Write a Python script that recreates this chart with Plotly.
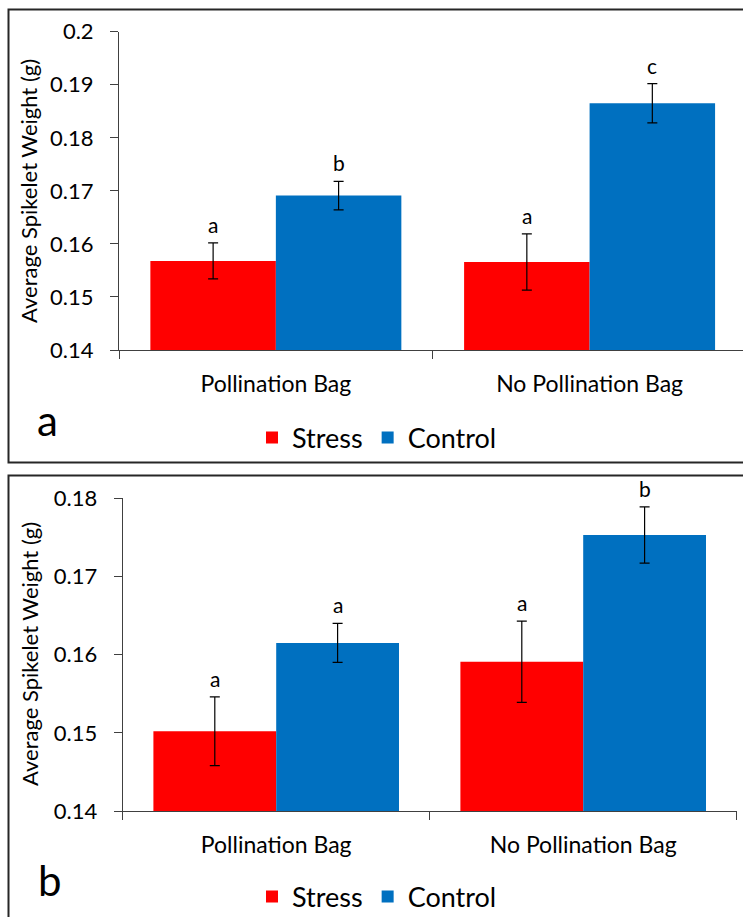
import plotly.graph_objects as go

# ---- data ----
categories = ["Pollination Bag", "No Pollination Bag"]
series_names = ["Stress", "Control"]

# panel a
stress_a = [0.1568, 0.1566]
stress_a_err = [0.0034, 0.0053]
control_a = [0.1691, 0.1865]
control_a_err = [0.0027, 0.0037]
letters_stress_a = ["a", "a"]
letters_control_a = ["b", "c"]

# panel b
stress_b = [0.1502, 0.1591]
stress_b_err = [0.0044, 0.0052]
control_b = [0.1615, 0.1753]
control_b_err = [0.0025, 0.0036]
letters_stress_b = ["a", "a"]
letters_control_b = ["a", "b"]

yticks_a = [0.14, 0.15, 0.16, 0.17, 0.18, 0.19, 0.2]
yticklabels_a = ["0.14", "0.15", "0.16", "0.17", "0.18", "0.19", "0.2"]
yticks_b = [0.14, 0.15, 0.16, 0.17, 0.18]
yticklabels_b = ["0.14", "0.15", "0.16", "0.17", "0.18"]

y_title = "Average Spikelet Weight (g)"
panel_tags = ["a", "b"]

# ---- styling ----
W, H = 743, 917
FONT = "Lato, 'Open Sans', sans-serif"
RED = "#FF0000"
BLUE = "#0070C0"
AXIS = "#404040"
TXT = "#000000"


def fx(px):
    return px / W


def fy(py):
    return (H - py) / H


fig = go.Figure()


def add_panel(xa, ya, legend_id, stress, stress_err, control, control_err):
    for name, vals, errs, color in [
        (series_names[0], stress, stress_err, RED),
        (series_names[1], control, control_err, BLUE),
    ]:
        fig.add_trace(go.Bar(
            x=categories, y=vals, name=name,
            marker=dict(color=color, line=dict(width=0)),
            error_y=dict(type="data", array=errs, visible=True,
                         color="#000000", thickness=1.2, width=5),
            xaxis=xa, yaxis=ya, legend=legend_id,
        ))


add_panel("x", "y", "legend", stress_a, stress_a_err, control_a, control_a_err)
add_panel("x2", "y2", "legend2", stress_b, stress_b_err, control_b, control_b_err)

annotations = []


def add_letters(xref, yref, stress, stress_err, control, control_err, ls, lc):
    for i in range(len(categories)):
        for off, v, e, t in [(-0.2, stress[i], stress_err[i], ls[i]),
                             (0.2, control[i], control_err[i], lc[i])]:
            annotations.append(dict(
                x=i + off, y=v + e, xref=xref, yref=yref, text=t,
                showarrow=False, xanchor="center", yanchor="bottom", yshift=4,
                font=dict(family=FONT, size=21, color=TXT)))


add_letters("x", "y", stress_a, stress_a_err, control_a, control_a_err,
            letters_stress_a, letters_control_a)
add_letters("x2", "y2", stress_b, stress_b_err, control_b, control_b_err,
            letters_stress_b, letters_control_b)

# rotated y-axis titles
for cx, cy in [(29, 191), (30, 654)]:
    annotations.append(dict(x=fx(cx), y=fy(cy), xref="paper", yref="paper",
                            text=y_title, textangle=-90, showarrow=False,
                            xanchor="center", yanchor="middle",
                            font=dict(family=FONT, size=22, color=TXT)))

# panel tags
for tag, cx, cy in [(panel_tags[0], 47, 420), (panel_tags[1], 50, 880)]:
    annotations.append(dict(x=fx(cx), y=fy(cy), xref="paper", yref="paper",
                            text=tag, showarrow=False,
                            xanchor="center", yanchor="middle",
                            font=dict(family=FONT, size=42, color=TXT)))

# panel frames (right/bottom edges run past the page)
shapes = [
    dict(type="rect", xref="paper", yref="paper",
         x0=fx(8.5), x1=fx(760), y0=fy(462.5), y1=fy(9.5),
         line=dict(color="#262626", width=2)),
    dict(type="rect", xref="paper", yref="paper",
         x0=fx(8.5), x1=fx(760), y0=fy(930), y1=fy(475.5),
         line=dict(color="#262626", width=2)),
]

xcommon = dict(type="category", showline=True, linecolor=AXIS, linewidth=1,
               ticks="outside", tickson="boundaries", ticklen=8,
               tickcolor=AXIS, showgrid=False, zeroline=False,
               tickfont=dict(family=FONT, size=23, color=TXT),
               ticklabelstandoff=13)
ycommon = dict(showline=True, linecolor=AXIS, linewidth=1, ticks="outside",
               ticklen=8, tickcolor=AXIS, showgrid=False, zeroline=False,
               tickfont=dict(family=FONT, size=22, color=TXT),
               ticklabelstandoff=12)

legend_common = dict(orientation="h", xanchor="center", yanchor="middle",
                     font=dict(family=FONT, size=27, color=TXT),
                     bgcolor="rgba(0,0,0,0)", itemclick=False,
                     itemdoubleclick=False)

fig.update_layout(
    width=W, height=H,
    margin=dict(l=0, r=0, t=0, b=0, autoexpand=False),
    paper_bgcolor="white", plot_bgcolor="white",
    barmode="group", bargap=0.2, bargroupgap=0,
    xaxis=dict(domain=[fx(119), 1], range=[-0.5, 1.489], anchor="y", **xcommon),
    yaxis=dict(domain=[fy(350), fy(31.7)], range=[0.14, 0.2], anchor="x",
               tickvals=yticks_a, ticktext=yticklabels_a, **ycommon),
    xaxis2=dict(domain=[fx(122.7), fx(736.7)], range=[-0.5, 1.5], anchor="y2",
                **xcommon),
    yaxis2=dict(domain=[fy(811), fy(498.3)], range=[0.14, 0.18], anchor="x2",
                tickvals=yticks_b, ticktext=yticklabels_b, **ycommon),
    legend=dict(x=fx(377), y=fy(438), **legend_common),
    legend2=dict(x=fx(377), y=fy(897), **legend_common),
    annotations=annotations,
    shapes=shapes,
    showlegend=True,
)

fig.write_html("out.html")
